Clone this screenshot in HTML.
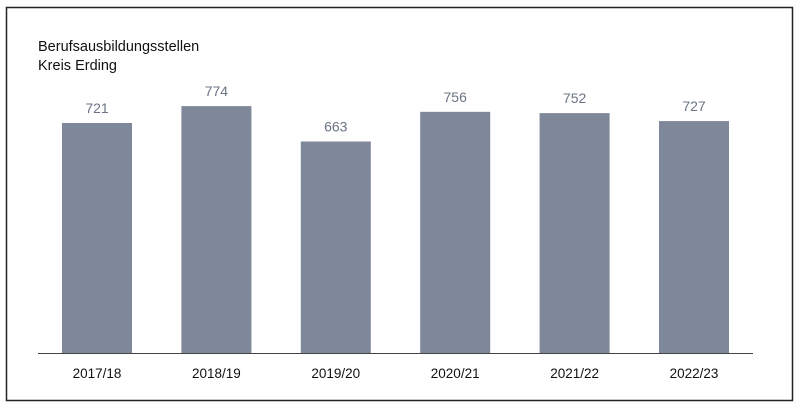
<!DOCTYPE html>
<html><head><meta charset="utf-8"><style>
body{margin:0;background:#fff;width:800px;height:408px;overflow:hidden}
svg text{font-family:"Liberation Sans",Arial,sans-serif}
</style></head><body>
<svg width="800" height="408" xmlns="http://www.w3.org/2000/svg">
<rect x="6.5" y="7.5" width="786" height="393" fill="#fff" stroke="#222" stroke-width="1.5"/>
<text x="38" y="51" font-size="14.5" fill="#111">Berufsausbildungsstellen</text>
<text x="38" y="70" font-size="14.5" fill="#111">Kreis Erding</text>
<g id="bars"></g>
<line x1="38" y1="353.5" x2="753" y2="353.5" stroke="#444" stroke-width="1"/>
</svg>
<script>
const categories=["2017/18","2018/19","2019/20","2020/21","2021/22","2022/23"];
const values=[721,774,663,756,752,727];
const g=document.getElementById('bars');
const ns="http://www.w3.org/2000/svg";
const base=353, scale=0.319, x0=62, step=119.4, bw=70;
function yPos(v){return base-v*scale;}
function xPos(i){return x0+i*step;}
categories.forEach((c,i)=>{
  const v=values[i];
  const r=document.createElementNS(ns,'rect');
  r.setAttribute('x',xPos(i));r.setAttribute('y',yPos(v));
  r.setAttribute('width',bw);r.setAttribute('height',base-yPos(v));
  r.setAttribute('fill','#7f879a');
  
  
  g.appendChild(r);
  const t=document.createElementNS(ns,'text');
  t.setAttribute('x',xPos(i)+bw/2);t.setAttribute('y',yPos(v)-10);
  t.setAttribute('text-anchor','middle');t.setAttribute('font-size','14');t.setAttribute('fill','#6b7385');
  t.textContent=v;
  
  
  g.appendChild(t);
  const l=document.createElementNS(ns,'text');
  l.setAttribute('x',xPos(i)+bw/2);l.setAttribute('y',378);
  l.setAttribute('text-anchor','middle');l.setAttribute('font-size','13.5');l.setAttribute('fill','#111');
  l.textContent=c;
  
  
  g.appendChild(l);
});
</script>
</body></html>
